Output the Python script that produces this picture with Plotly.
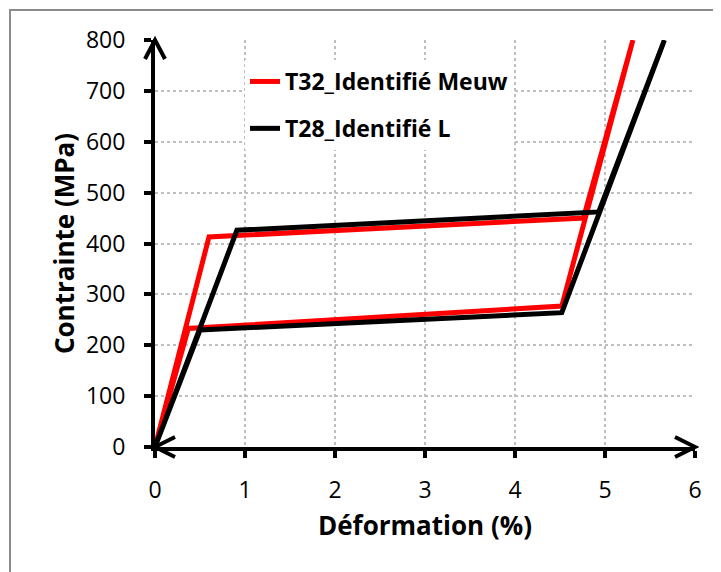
import plotly.graph_objects as go

# Data
t32_x = [0, 0.60, 4.76, 5.31, 4.52, 0.37, 0]
t32_y = [0, 413, 450, 800, 277, 233, 0]
t28_x = [0, 0.91, 4.93, 5.66, 4.52, 0.50, 0]
t28_y = [0, 426, 462, 800, 264, 230, 0]
series_names = ["T32_Identifié Meuw", "T28_Identifié L"]
series_colors = ["#ff0000", "#000000"]
x_ticks = [0, 1, 2, 3, 4, 5, 6]
y_ticks = [0, 100, 200, 300, 400, 500, 600, 700, 800]

W, H = 721, 572
OFF = 8  # default page body margin
L, T = 155 - OFF, 40 - OFF
PW, PH = 540, 407
R = W - L - PW
B = H - T - PH

fig = go.Figure()
for xs, ys, name, col in [(t32_x, t32_y, series_names[0], series_colors[0]),
                          (t28_x, t28_y, series_names[1], series_colors[1])]:
    fig.add_trace(go.Scatter(x=xs, y=ys, mode="lines", name=name, legendgroup=name,
                             line=dict(color=col, width=5)))

tick_font = dict(family="Open Sans", size=23, color="#000")
title_font = dict(family="Open Sans", size=26, color="#000")

fig.update_layout(
    width=W, height=H,
    margin=dict(l=L, r=R, t=T, b=B),
    paper_bgcolor="white", plot_bgcolor="white",
    showlegend=True,
    legend=dict(x=(245 - OFF - L) / PW, y=(T + PH - (60 - OFF)) / PH, xanchor="left", yanchor="top",
                bgcolor="white", borderwidth=0, traceorder="grouped", tracegroupgap=14,
                font=dict(family="Open Sans", size=23, color="#000", weight="bold")),
    xaxis=dict(range=[0, 6], tickvals=x_ticks, showgrid=True, gridcolor="#bfbfbf", griddash="dot",
               gridwidth=1.5, zeroline=False, showline=True, linecolor="#000", linewidth=4,
               ticks="outside", ticklen=7, tickwidth=4, tickcolor="#000", tickfont=tick_font,
               ticklabelstandoff=12,
               title=dict(text="<b>Déformation (%)</b>", font=title_font, standoff=14)),
    yaxis=dict(range=[0, 800], tickvals=y_ticks, showgrid=True, gridcolor="#bfbfbf", griddash="dot",
               gridwidth=1.5, zeroline=False, showline=True, linecolor="#000", linewidth=4,
               ticks="outside", ticklen=7, tickwidth=4, tickcolor="#000", tickfont=tick_font,
               ticklabelstandoff=14,
               title=dict(text="<b>Contrainte (MPa)</b>", font=title_font, standoff=5)),
)

arrow = dict(type="path", xref="paper", yref="paper", xsizemode="pixel", ysizemode="pixel",
             line=dict(color="#000", width=4), layer="above")
fig.add_shape(**arrow, xanchor=1, yanchor=0, path="M-20,10 L0,0 L-20,-10")
fig.add_shape(**arrow, xanchor=0, yanchor=0, path="M20,10 L0,0 L20,-10")
fig.add_shape(**arrow, xanchor=0, yanchor=1, path="M-10,-19 L0,0 L10,-19")

# outer chart frame (page coords: left 10, top 10, extends past right/bottom)
fig.add_shape(type="rect", xref="paper", yref="paper",
              x0=(10 - OFF - L) / PW, x1=(W + 20 - L) / PW,
              y0=(T + PH - (H + 20)) / PH, y1=(T + PH - (10 - OFF)) / PH,
              line=dict(color="#8c8c8c", width=2), layer="below")

fig.write_html("out.html")
